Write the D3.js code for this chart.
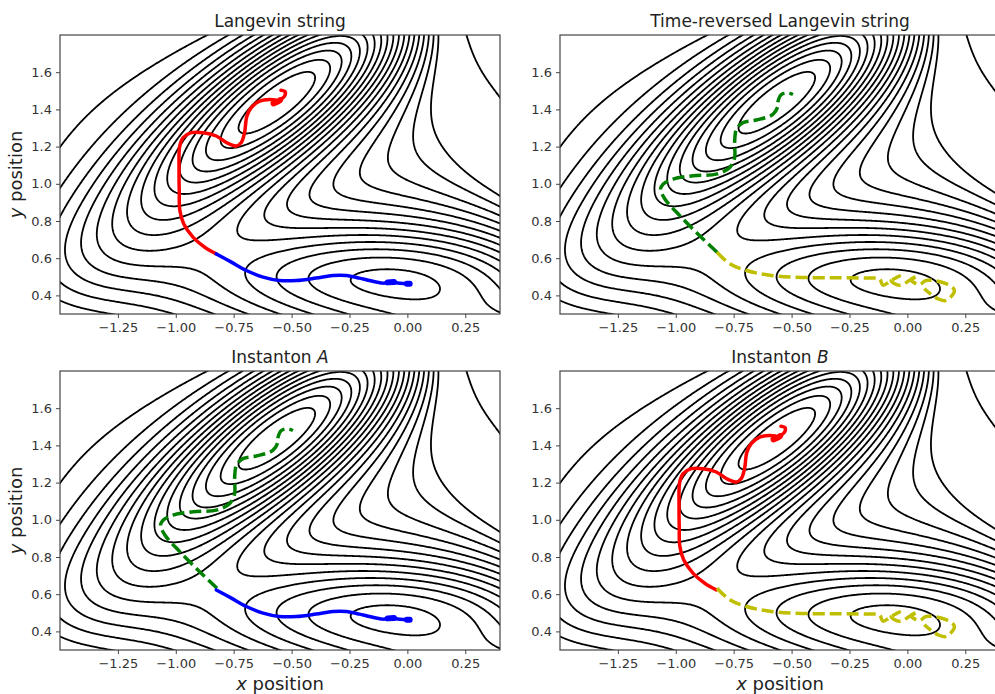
<!DOCTYPE html>
<html>
<head>
<meta charset="utf-8">
<script src="https://cdn.jsdelivr.net/npm/d3@7"></script>
<style>
  body { margin: 0; background: #fff; }
  text { font-family: "DejaVu Sans", sans-serif; fill: #222; }
</style>
</head>
<body>
<div id="chart"></div>
<script>
(function() {
  'use strict'

  // Mueller-Brown potential parameters //
  var A  = [-200, -100, -170, 15]
  var a  = [-1, -1, -6.5, 0.7]
  var b  = [0, 0, 11, 0.6]
  var c  = [-10, -10, -6.5, 0.7]
  var x0 = [1, 0, -0.5, -1]
  var y0 = [0, 0.5, 1.5, 1]

  // contour levels (10 apart up to ~43, then one at ~100)
  var levels = [-136.7, -126.7, -116.7, -106.7, -96.7, -86.7, -76.7, -66.7, -56.7, -46.7,
    -36.7, -26.7, -16.7, -6.7, 3.3, 13.3, 23.3, 33.3, 43.3, 101]

  var xTicks = [-1.25, -1.0, -0.75, -0.5, -0.25, 0, 0.25]
  var yTicks = [0.4, 0.6, 0.8, 1.0, 1.2, 1.4, 1.6]

  // string paths //
  var redPath = [[-0.546,1.503],[-0.528,1.495],[-0.53,1.472],[-0.545,1.455],[-0.56,1.44],[-0.578,1.432],
    [-0.565,1.447],[-0.595,1.453],[-0.638,1.444],[-0.674,1.409],[-0.693,1.364],[-0.703,1.275],
    [-0.717,1.222],[-0.739,1.203],[-0.782,1.222],[-0.825,1.257],[-0.882,1.275],[-0.933,1.275],
    [-0.968,1.248],[-0.983,1.203],[-0.986,1.079],[-0.985,0.95],[-0.983,0.86],[-0.966,0.785],
    [-0.925,0.712],[-0.875,0.659],[-0.825,0.623]]
  var redBlob = [[-0.578,1.432],[-0.562,1.44],[-0.55,1.45]]

  var bluePath = [[-0.825,0.623],[-0.76,0.579],[-0.695,0.534],[-0.623,0.498],
    [-0.552,0.48],[-0.48,0.48],[-0.395,0.493],[-0.322,0.507],[-0.264,0.507],[-0.207,0.493],
    [-0.164,0.48],[-0.106,0.466],[-0.07,0.471],[-0.034,0.465],[0.009,0.463]]
  var blueBlob = [[-0.085,0.47],[-0.058,0.472]]
  var blueEnd = [[-0.002,0.463],[0.01,0.463]]

  var greenPath = [[-0.822,0.632],[-0.897,0.721],[-0.983,0.829],[-1.047,0.918],[-1.066,0.972],
    [-1.055,0.998],[-1.012,1.025],[-0.925,1.043],[-0.825,1.052],[-0.767,1.088],[-0.746,1.141],
    [-0.746,1.222],[-0.738,1.293],[-0.71,1.329],[-0.652,1.343],[-0.581,1.373],[-0.559,1.418],
    [-0.559,1.44],[-0.544,1.48],[-0.516,1.489],[-0.494,1.48]]

  var yellowPath = [[-0.822,0.632],[-0.767,0.57],[-0.695,0.534],[-0.609,0.511],[-0.494,0.498],
    [-0.322,0.495],[-0.178,0.493],[-0.121,0.489],[-0.105,0.455],[-0.07,0.48],[-0.034,0.504],
    [-0.07,0.48],[-0.034,0.454],[0.016,0.486],[0.045,0.504],[0.016,0.486],[0.052,0.457],
    [0.08,0.48],[0.167,0.463],[0.203,0.427],[0.167,0.373],[0.131,0.382],[0.073,0.436]]

  var red = {d: redPath, color: "#ff0000", dash: null, w: 3.5},
    redB = {d: redBlob, color: "#ff0000", dash: null, w: 6},
    blue = {d: bluePath, color: "#0000ff", dash: null, w: 3.5},
    blueB = {d: blueBlob, color: "#0000ff", dash: null, w: 6},
    blueE = {d: blueEnd, color: "#0000ff", dash: null, w: 6},
    green = {d: greenPath, color: "#008000", dash: "12,5", w: 3.5},
    yellow = {d: yellowPath, color: "#bfbf00", dash: "12,5", w: 3.5}

  var panels = [
    {left: 60,  top: 35,  title: ["Langevin string"], ylab: true,  xlab: false, paths: [red, redB, blue, blueB, blueE]},
    {left: 560, top: 35,  title: ["Time-reversed Langevin string"], ylab: false, xlab: false, paths: [green, yellow]},
    {left: 60,  top: 371, title: ["Instanton ", "A"], ylab: true,  xlab: true, paths: [green, blue, blueB, blueE]},
    {left: 560, top: 371, title: ["Instanton ", "B"], ylab: false, xlab: true, paths: [red, redB, yellow]}
  ]

  // SVG Setup //
  var width = 995, height = 694,
    pw = 440, ph = 279

  var svg = d3.select("#chart").append("svg")
    .attr("width", width)
    .attr("height", height)

  var x = d3.scaleLinear().domain([-1.5, 0.4]).range([0, pw])
  var y = d3.scaleLinear().domain([0.3, 1.8]).range([ph, 0])

  // potential on a grid a bit larger than the view //
  var gx0 = -1.6, gy0 = 0.2, step = 0.005
  var nx = Math.round((0.5 - gx0) / step) + 1,
    ny = Math.round((1.9 - gy0) / step) + 1
  var grid = new Float64Array(nx * ny)
  for (var j = 0; j < ny; j++) {
    for (var i = 0; i < nx; i++) {
      var px = gx0 + i * step, py = gy0 + j * step, v = 0
      for (var k = 0; k < 4; k++) {
        var dx = px - x0[k], dy = py - y0[k]
        v += A[k] * Math.exp(a[k] * dx * dx + b[k] * dx * dy + c[k] * dy * dy)
      }
      grid[j * nx + i] = v
    }
  }

  var contours = d3.contours().size([nx, ny]).thresholds(levels)(grid)

  var gridToScreen = d3.geoTransform({
    point: function(gx, gy) {
      this.stream.point(x(gx0 + (gx - 0.5) * step), y(gy0 + (gy - 0.5) * step))
    }
  })
  var contourPath = d3.geoPath(gridToScreen)

  var line = d3.line()
    .x(function(d) { return x(d[0]) })
    .y(function(d) { return y(d[1]) })
    .curve(d3.curveCatmullRom.alpha(0.5))

  panels.forEach(function(p, n) {
    var g = svg.append("g").attr("transform", "translate(" + p.left + "," + p.top + ")")

    g.append("clipPath").attr("id", "clip" + n)
      .append("rect").attr("width", pw).attr("height", ph)

    var plot = g.append("g").attr("clip-path", "url(#clip" + n + ")")

    plot.selectAll(".iso")
      .data(contours)
      .enter().append("path")
      .attr("class", "iso")
      .attr("d", contourPath)
      .style("fill", "none")
      .style("stroke", "#000")
      .style("stroke-width", 1.8)

    p.paths.forEach(function(s) {
      plot.append("path")
        .datum(s.d)
        .attr("d", line)
        .style("fill", "none")
        .style("stroke", s.color)
        .style("stroke-width", s.w)
        .style("stroke-linecap", s.dash ? "butt" : "round")
        .style("stroke-linejoin", "round")
        .style("stroke-dasharray", s.dash)
    })

    // frame
    g.append("rect")
      .attr("width", pw).attr("height", ph)
      .style("fill", "none")
      .style("stroke", "#444")
      .style("stroke-width", 1.2)

    var xa = g.append("g").attr("transform", "translate(0," + ph + ")")
      .call(d3.axisBottom(x).tickValues(xTicks).tickFormat(d3.format(".2f")).tickSize(4).tickPadding(5))
    var ya = g.append("g")
      .call(d3.axisLeft(y).tickValues(yTicks).tickFormat(d3.format(".1f")).tickSize(4).tickPadding(4))
    ;[xa, ya].forEach(function(ax) {
      ax.select(".domain").remove()
      ax.selectAll("line").style("stroke", "#444").style("stroke-width", 1)
      ax.selectAll("text").style("font-size", "13px").style("fill", "#333")
        .style("font-family", "'DejaVu Sans', sans-serif")
    })

    var t = g.append("text")
      .attr("x", pw / 2).attr("y", -8)
      .attr("text-anchor", "middle")
      .style("font-size", "17px")
    t.append("tspan").text(p.title[0])
    if (p.title[1]) t.append("tspan").style("font-style", "italic").text(p.title[1])

    if (p.ylab) {
      var yl = g.append("text")
        .attr("transform", "translate(" + (-38) + "," + (ph / 2) + ") rotate(-90)")
        .attr("text-anchor", "middle")
        .style("font-size", "18px")
      yl.append("tspan").style("font-style", "italic").text("y")
      yl.append("tspan").text(" position")
    }
    if (p.xlab) {
      var xl = g.append("text")
        .attr("x", pw / 2).attr("y", ph + 40)
        .attr("text-anchor", "middle")
        .style("font-size", "18px")
      xl.append("tspan").style("font-style", "italic").text("x")
      xl.append("tspan").text(" position")
    }
  })
})()
</script>
</body>
</html>
